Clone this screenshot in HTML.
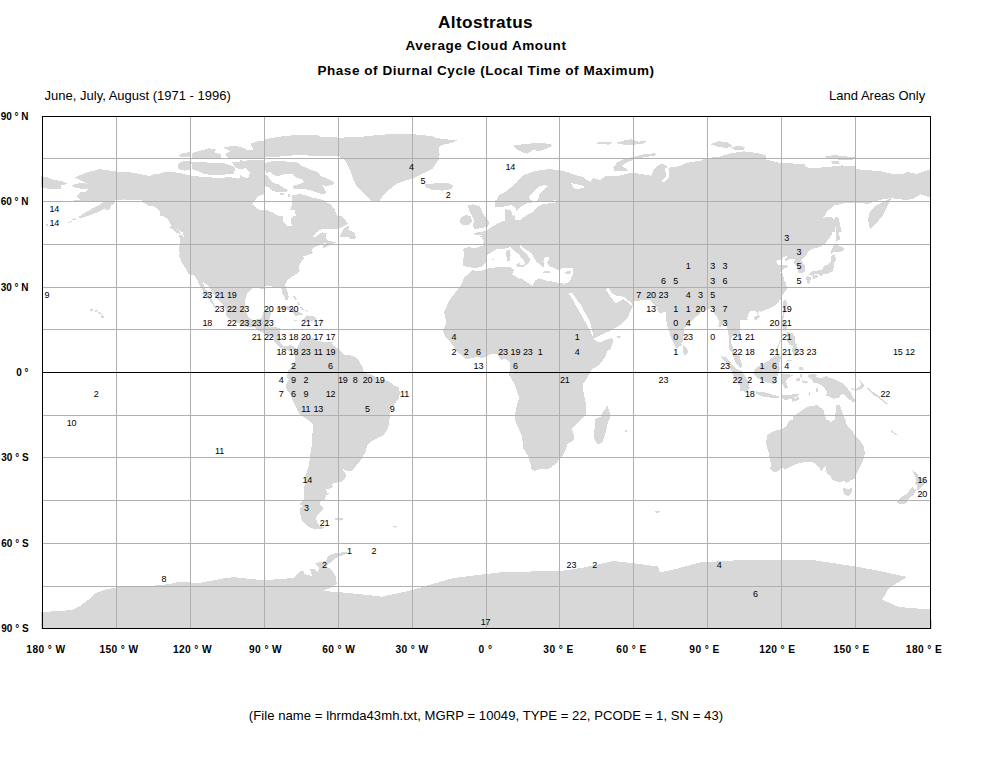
<!DOCTYPE html>
<html><head><meta charset="utf-8"><style>
html,body{margin:0;padding:0;background:#fff;width:997px;height:760px;overflow:hidden}
svg{position:absolute;left:0;top:0}
text{font-family:"Liberation Sans",sans-serif}
</style></head><body>
<svg width="997" height="760" viewBox="0 0 997 760">
<rect width="997" height="760" fill="#fff"/>
<text x="485.5" y="27.6" font-size="17.2" font-weight="bold" letter-spacing="0.4" text-anchor="middle">Altostratus</text>
<text x="486" y="50.3" font-size="13.5" font-weight="bold" letter-spacing="0.6" text-anchor="middle">Average Cloud Amount</text>
<text x="486" y="74.8" font-size="13.5" font-weight="bold" letter-spacing="0.55" text-anchor="middle">Phase of Diurnal Cycle (Local Time of Maximum)</text>
<text x="44.6" y="100" font-size="13">June, July, August (1971 - 1996)</text>
<text x="925.2" y="100" font-size="13" text-anchor="end">Land Areas Only</text>
<path d="M216.0,149.4 208.8,148.4 201.6,150.3 191.6,153.1 191.6,157.9 220.5,157.9 221.3,154.8 214.1,152.1ZM183.4,153.1 178.9,154.8 179.9,157.1 189.8,157.1 189.8,152.1ZM177.7,169.0 184.1,170.6 190.5,169.8 190.5,160.9 180.1,161.7 177.7,165.7ZM435.5,164.1 438.8,159.3 439.6,154.5 438.8,148.1 442.0,144.9 453.2,142.5 457.2,140.1 445.2,139.3 435.5,137.7 432.3,136.1 416.3,134.5 392.2,134.0 374.6,135.3 360.1,136.9 338.5,137.7 329.6,136.5 320.0,136.8 320.0,135.9 317.0,135.4 297.2,134.9 279.1,136.7 264.6,139.4 264.6,140.4 257.4,141.2 250.2,143.9 252.1,146.7 253.7,150.0 245.9,150.0 244.9,148.4 239.4,146.7 232.2,145.8 223.2,147.6 230.5,151.1 225.0,153.9 228.5,157.9 240.0,157.9 240.0,158.0 265.1,158.0 265.1,157.5 288.1,156.0 296.2,155.0 320.2,156.0 340.0,156.5 340.0,158.0 344.1,159.3 347.3,164.1 350.5,170.6 352.1,175.4 353.7,180.2 356.9,186.6 363.3,193.0 371.4,201.1 379.4,201.1 382.6,196.2 389.0,189.8 397.0,183.4 406.7,180.2 416.3,177.0 425.9,172.2 432.3,169.0ZM240.0,153.2 239.4,153.1 240.0,152.9ZM224.2,174.6 233.8,173.8 235.4,167.4 227.4,164.1 221.0,162.5 213.0,163.3 201.7,161.7 191.3,162.5 192.1,169.0 198.5,171.4 203.3,173.8 213.0,175.4ZM297.2,162.5 286.1,161.5 273.1,161.0 265.1,163.0 265.1,170.1 266.1,173.1 270.1,172.1 273.1,175.1 278.1,176.1 284.1,174.1 292.2,174.1 296.2,178.1 302.2,179.1 304.2,182.1 300.2,184.1 294.2,185.1 292.2,188.1 296.2,189.1 304.2,189.1 310.2,190.1 315.2,192.1 322.2,194.1 326.3,193.1 325.3,190.1 322.2,185.1 326.3,186.1 333.3,184.6 334.3,182.1 328.3,179.1 320.2,175.6 318.2,172.1 310.2,169.6 302.2,166.0ZM54.3,188.5 60.5,189.1 60.5,185.7 65.4,184.3 67.4,184.0 64.2,181.7 53.1,179.7 46.9,177.2 40.8,176.0 40.8,187.1 46.9,188.5ZM280.1,193.3 280.6,195.6 284.6,195.1 284.1,192.9ZM288.1,194.1 288.3,197.3 290.4,197.1 290.2,194.1ZM72.6,220.6 76.1,219.3 75.1,218.1 72.1,219.1ZM72.1,221.5 71.1,220.9 68.1,222.3 68.9,222.9ZM48.0,225.6 47.5,224.1 46.0,224.6 46.2,225.8ZM339.5,236.6 347.9,236.6 350.3,238.6 354.0,239.4 356.0,236.9 354.0,232.1 348.4,230.1 349.1,225.2 344.2,227.8ZM294.0,295.5 292.0,295.5 295.5,300.0 297.0,299.5ZM298.0,301.5 296.0,301.5 299.0,305.2 300.5,305.0ZM300.0,307.0 303.0,310.3 304.5,310.0 301.5,306.8ZM90.0,311.0 93.0,310.8 93.5,309.0 90.0,309.3ZM307.5,311.8 308.5,311.0 305.0,309.5 305.2,310.8ZM303.0,314.5 299.8,312.3 294.8,310.0 288.7,306.3 283.7,306.0 278.8,306.9 276.3,310.0 277.6,310.0 281.3,309.4 285.0,309.1 288.7,310.0 294.1,313.1 294.8,315.7 300.5,315.4ZM95.0,310.2 95.0,311.8 96.5,312.0 97.5,310.5ZM98.0,313.2 101.5,314.0 101.5,313.0 98.0,312.0ZM104.5,316.0 101.0,314.5 101.0,318.0 103.0,318.5ZM307.2,315.4 302.5,319.7 305.9,320.8 309.6,321.9 313.3,320.2 317.3,319.1 313.3,316.0ZM324.2,319.7 320.2,319.4 320.2,320.8 323.9,320.8ZM297.8,319.9 292.9,319.7 293.6,320.5 296.6,321.1ZM160.0,216.0 160.0,216.0 160.0,216.0 160.0,216.0 160.0,216.0 160.0,216.0 160.0,216.0 160.0,216.0 164.0,216.0 164.6,217.0 168.3,219.8 170.8,224.1 171.5,227.2 169.3,227.5 172.7,229.5 176.4,232.9 181.9,234.3 179.4,231.2 176.7,228.9 177.7,229.2 180.6,230.9 183.1,232.6 183.8,236.9 182.1,234.9 178.7,234.9 180.1,239.7 180.1,242.6 178.9,249.1 179.6,252.5 179.4,256.8 180.6,259.6 182.6,263.9 184.1,266.2 186.3,269.6 188.5,273.6 193.7,275.3 195.2,276.4 197.2,279.6 199.4,285.2 201.8,288.9 203.6,292.4 204.1,294.6 209.2,299.5 211.0,302.3 214.2,306.9 215.9,306.6 214.2,304.3 212.2,300.9 209.7,295.8 207.3,290.9 204.1,286.7 203.1,281.8 207.8,285.2 211.0,290.1 213.4,293.8 217.1,298.6 220.8,302.3 225.0,307.7 226.3,310.8 225.8,315.1 230.7,319.9 235.6,321.9 240.6,324.5 245.5,326.5 250.4,327.1 254.6,327.1 258.6,330.8 262.8,332.5 267.7,334.5 270.2,335.0 274.4,339.3 274.4,342.1 277.6,345.0 281.3,348.4 286.2,349.8 288.7,350.7 292.4,349.2 293.9,351.3 293.8,351.5 294.8,354.9 295.3,359.2 294.8,362.0 292.4,364.9 291.1,367.7 288.7,369.2 288.2,372.0 286.4,376.3 288.7,379.1 287.9,381.7 285.7,385.4 286.7,389.6 289.9,393.9 292.9,400.4 295.6,406.1 297.8,411.3 300.5,415.2 305.9,418.6 309.6,421.2 312.6,424.1 312.8,430.3 312.1,437.4 312.1,443.1 311.1,450.2 310.1,454.5 309.6,460.2 309.1,465.9 306.4,473.0 304.7,477.8 304.7,484.4 304.0,490.9 303.5,494.9 303.5,500.0 299.8,504.3 302.2,505.7 299.5,510.0 300.3,514.2 301.7,519.9 304.7,522.8 308.4,526.5 312.1,528.4 317.0,529.3 322.0,528.7 325.2,527.9 319.5,525.6 317.0,522.8 317.3,521.0 315.8,518.5 317.0,515.6 319.5,512.8 323.4,509.1 323.2,507.1 319.5,504.3 321.2,500.9 324.9,500.0 325.7,495.7 329.1,493.7 327.4,492.9 325.7,488.6 329.4,488.6 332.6,487.2 332.3,484.4 334.3,482.9 340.5,482.1 344.2,480.1 346.1,475.8 344.9,473.0 342.2,468.7 346.6,471.0 351.6,471.0 354.0,468.7 357.2,464.4 360.7,460.2 363.2,455.9 366.1,451.6 366.9,445.4 370.6,441.7 375.0,439.4 378.7,437.4 382.9,436.0 386.1,431.7 388.1,427.5 389.3,421.8 389.8,414.7 390.5,409.0 393.5,405.8 396.0,401.9 399.4,397.6 399.7,391.9 398.4,386.8 394.2,385.7 388.6,381.1 384.9,380.2 381.2,380.0 376.7,379.1 375.0,376.3 371.3,374.6 367.6,374.0 365.1,372.6 362.7,370.6 362.7,366.9 360.2,363.5 358.7,360.3 356.3,357.8 352.8,355.8 348.1,355.2 344.7,354.9 341.7,352.1 338.5,348.4 335.5,347.3 331.8,343.6 333.3,341.6 330.6,341.6 327.6,342.1 322.7,341.8 317.5,341.0 314.6,339.3 312.8,337.6 310.9,340.1 310.1,336.7 307.9,338.2 304.7,339.9 301.5,340.4 299.8,342.1 298.5,345.5 296.6,349.2 295.1,347.5 291.1,344.7 287.4,346.1 283.7,345.8 280.0,342.1 279.8,339.3 280.0,333.6 280.3,328.8 275.1,326.8 270.2,327.1 268.2,325.4 269.2,320.2 270.2,316.5 271.4,311.1 268.9,310.8 263.3,312.0 262.8,313.7 261.5,318.2 257.8,319.1 252.9,320.2 248.7,317.4 246.0,312.3 244.8,308.6 245.3,302.3 245.7,296.6 248.0,292.4 252.9,288.1 257.8,287.8 262.8,289.2 266.0,289.5 265.2,286.1 270.2,285.8 275.1,287.5 278.8,286.7 281.8,288.9 282.0,293.2 284.2,296.3 285.5,299.5 287.4,300.3 288.7,296.6 287.2,290.9 285.2,285.2 286.7,281.0 290.6,277.6 293.6,275.6 297.3,273.3 299.8,271.0 298.5,266.8 299.8,263.9 301.0,261.6 303.5,259.4 303.5,256.5 307.2,254.8 310.9,254.0 313.3,253.1 311.6,250.8 312.8,248.0 317.0,246.3 320.7,244.9 323.2,243.4 326.9,243.1 322.7,246.0 323.9,248.3 328.1,246.0 333.1,244.0 338.0,241.4 335.5,242.3 333.1,241.7 328.1,240.6 326.4,238.6 325.7,235.5 327.4,233.2 322.0,232.3 315.1,236.9 312.1,237.5 317.0,231.8 322.0,229.2 329.4,228.9 338.0,229.2 344.7,225.5 348.4,224.1 344.7,219.3 341.7,216.1 341.5,216.0 337.2,216.0 334.8,210.0 335.7,210.0 330.3,204.2 325.3,201.2 320.2,199.1 314.2,198.1 308.2,196.1 300.2,194.1 292.2,195.1 292.2,203.2 290.3,210.0 294.4,210.0 296.1,216.0 293.2,216.0 291.1,218.4 291.6,225.5 287.4,226.1 283.2,221.2 283.0,216.0 278.5,216.0 272.3,212.3 266.6,210.0 259.2,210.0 252.0,204.2 255.0,200.2 255.6,199.8 258.1,196.1 264.1,194.1 264.1,188.1 265.1,186.1 270.1,188.1 272.1,191.1 278.1,192.1 286.1,192.1 288.1,190.1 284.1,188.1 278.1,184.1 273.1,183.1 270.1,180.1 267.1,175.1 264.1,175.1 264.1,159.5 260.1,160.0 250.0,160.0 244.0,161.0 240.0,160.1 240.0,162.0 232.2,162.5 233.8,165.7 238.6,169.0 240.0,169.0 240.0,178.4 237.0,178.6 230.6,177.3 217.8,177.8 203.3,177.0 190.5,175.4 179.3,173.0 169.6,171.4 160.0,173.0 160.0,173.0 160.0,173.8 154.2,174.0 150.5,176.0 145.6,175.2 138.2,173.9 133.3,172.6 125.9,172.3 117.2,171.5 111.1,170.6 104.9,170.3 100.0,169.0 95.0,170.6 88.9,171.8 83.9,173.7 77.8,176.0 74.6,177.6 78.0,178.9 82.2,181.1 86.9,183.7 81.5,182.8 76.5,183.7 71.4,185.4 72.8,186.5 75.8,188.2 80.2,188.5 85.2,188.5 88.9,189.1 86.4,191.4 80.2,192.2 79.0,194.2 76.5,196.2 78.3,197.6 80.2,199.9 80.4,200.0 74.1,200.0 74.1,201.5 103.5,201.9 102.2,203.0 95.2,207.0 86.1,212.0 78.6,216.9 80.1,218.3 89.1,215.5 98.2,212.0 106.7,207.8 105.2,209.5 108.2,210.5 111.2,206.5 109.6,206.2 115.2,203.0 114.4,200.0 122.4,200.0 124.6,199.3 126.7,200.0 142.0,200.0 142.0,202.2 146.3,204.2 149.3,206.2 153.0,205.6 156.7,208.4 160.0,211.0 160.0,216.0 160.0,216.0 160.0,216.0 160.0,216.0 160.0,216.0 160.0,216.0 160.0,216.0 160.0,216.0 160.0,216.0ZM113.5,200.0 113.3,200.0 113.5,199.9ZM248.0,178.1 243.0,177.1 240.0,175.1 240.0,169.1 246.0,168.1 250.0,173.1ZM335.5,519.9 339.2,520.8 343.4,519.3 342.9,517.6 334.8,517.9ZM618.9,144.1 626.9,144.9 634.9,144.6 644.6,143.3 646.2,140.9 638.1,141.7 631.7,139.3 625.3,140.1 617.3,142.5ZM602.8,141.7 594.8,143.0 599.6,144.2 609.3,144.6 612.5,142.5ZM726.4,148.1 732.8,145.7 726.4,141.7 718.4,141.4 710.4,144.1 716.8,146.5ZM744.1,149.7 744.9,147.3 739.2,145.7 731.2,147.3 734.4,150.0ZM533.8,149.7 538.6,151.3 543.5,149.7 549.9,147.3 553.1,144.9 543.5,143.0 533.8,143.3 524.2,144.1 513.0,145.7 516.2,148.9 524.2,152.9 527.4,153.7ZM623.7,159.3 617.3,162.5 613.3,167.4 614.1,170.6 623.7,171.4 628.5,170.6 622.1,165.7 626.9,162.5 634.9,159.3 646.2,156.9 656.6,155.3 654.2,153.2 643.0,154.5 633.3,156.9ZM425.1,184.2 425.9,187.4 432.3,189.8 442.0,190.6 451.6,189.0 453.2,185.8 448.4,183.1 435.5,183.4ZM474.4,229.3 479.3,228.5 487.3,226.9 489.7,222.9 485.7,217.3 482.5,212.5 479.3,206.0 472.8,204.4 468.0,205.2 468.8,209.3 471.2,214.1 474.4,220.5 472.8,224.5ZM472.0,222.1 471.2,216.5 466.4,214.9 461.6,217.3 460.0,220.5 460.0,222.9 461.6,224.5 468.0,225.3ZM509.8,260.9 510.6,255.3 509.8,250.0 506.6,250.4 506.2,255.3 507.0,260.5ZM491.8,259.9 494.2,260.1 494.6,258.9 491.4,258.5ZM542.2,271.7 543.4,273.5 550.6,272.9 549.4,271.1ZM571.1,271.1 565.1,271.7 565.7,273.8 570.5,273.5ZM784.5,291.8 786.7,289.5 786.9,286.7 785.7,284.7 786.7,282.7 784.5,280.7 782.7,274.4 780.0,272.7 782.5,269.9 783.7,268.5 788.2,267.0 787.4,265.3 783.7,264.5 779.3,265.3 777.1,263.3 776.1,261.6 777.1,260.5 780.0,260.2 783.2,257.7 785.9,255.7 787.7,256.8 785.2,259.6 785.7,261.4 790.1,258.8 792.6,258.5 794.8,259.6 793.8,263.6 798.0,266.8 797.8,269.6 798.0,272.4 800.5,273.3 803.0,272.4 804.9,271.6 805.4,268.2 805.2,266.5 803.2,263.1 801.2,260.5 805.9,255.9 808.1,251.4 812.3,248.8 820.2,247.1 825.7,242.6 832.1,234.3 832.3,232.0 834.8,232.0 835.6,226.4 836.2,232.0 836.1,232.0 836.3,234.0 835.8,239.7 836.3,241.2 840.0,239.7 838.9,232.0 841.7,232.0 838.3,216.7 834.5,217.7 834.7,219.4 830.8,216.7 823.4,217.7 827.1,211.1 834.5,205.5 845.7,202.8 855.1,202.8 868.1,203.7 879.3,200.0 889.3,198.3 886.8,200.0 875.6,205.5 869.1,213.0 868.1,220.5 870.0,229.8 875.6,224.2 883.1,214.9 888.7,203.7 891.4,198.2 905.4,200.0 912.9,199.0 920.4,194.4 931.0,197.6 931.0,187.6 931.2,187.1 931.2,176.0 931.0,176.0 931.0,169.5 928.8,170.1 916.6,173.8 907.3,172.0 903.6,173.8 892.4,173.8 879.3,171.0 866.3,170.1 856.9,169.2 855.1,166.4 842.0,165.4 832.7,166.4 823.4,167.3 814.0,168.2 806.6,167.3 804.7,164.5 793.5,163.6 787.9,163.0 778.6,162.6 765.5,159.3 766.5,155.2 756.2,152.9 745.0,151.6 745.0,151.1 744.1,151.3 731.2,153.2 718.4,156.9 707.2,158.0 700.7,160.6 686.3,162.9 679.9,166.1 670.2,167.4 667.7,168.6 668.6,169.0 669.4,177.0 663.8,182.6 661.4,181.8 666.2,176.2 664.6,167.4 666.9,168.3 666.2,164.9 660.6,163.8 654.2,169.0 651.0,175.7 638.1,173.5 631.7,172.5 618.9,175.7 606.0,176.2 599.6,180.2 593.2,177.8 590.0,182.3 590.0,181.4 587.3,180.1 583.3,177.1 575.2,175.0 567.2,172.0 559.2,170.0 549.2,169.2 541.1,170.0 532.1,172.0 524.1,175.0 519.1,179.1 517.1,182.1 511.0,187.1 505.0,192.1 499.0,195.1 497.0,199.6 495.0,199.6 495.0,207.1 501.0,207.1 511.0,205.1 515.1,207.1 516.5,210.7 520.1,207.1 528.1,203.1 535.1,202.1 551.2,201.1 555.2,200.1 557.2,202.1 551.2,203.1 543.1,204.1 537.1,207.1 533.1,212.2 525.1,216.2 520.1,220.0 519.9,220.0 515.1,220.0 515.1,214.2 513.1,216.2 511.0,210.2 505.0,209.1 505.0,220.0 505.8,220.0 496.9,223.7 488.9,228.5 486.5,230.9 479.3,232.0 474.4,233.3 475.3,235.0 482.2,235.0 482.4,236.0 478.5,236.0 481.7,237.6 483.7,240.8 482.5,245.6 476.1,248.0 467.3,247.2 463.3,248.8 464.1,256.1 462.5,261.7 463.3,265.7 466.5,266.5 469.7,266.5 472.1,268.1 476.1,268.1 481.7,266.5 485.7,262.5 487.3,255.3 492.2,252.0 496.2,249.2 504.2,248.8 510.6,247.2 515.4,252.0 520.0,254.9 520.0,256.9 520.6,257.3 523.6,260.3 525.4,263.9 523.0,265.1 520.0,264.4 520.0,262.7 516.2,264.1 517.0,266.5 520.0,266.5 520.0,267.2 520.6,267.5 524.2,266.3 529.0,262.7 530.2,259.1 527.8,255.5 524.2,251.9 520.6,248.2 520.0,247.9 520.0,245.3 520.6,245.2 525.4,249.4 531.4,253.1 533.8,257.9 537.4,262.7 541.0,265.1 542.2,267.5 544.6,266.3 543.4,261.5 544.6,257.3 548.2,256.7 549.4,259.1 547.0,262.7 549.4,266.3 554.3,268.1 557.9,269.9 561.5,268.7 566.3,267.5 573.5,268.1 572.9,273.5 570.6,280.0 569.9,280.0 568.3,282.8 563.7,283.7 560.0,282.9 560.0,283.1 559.1,283.1 554.3,281.9 547.0,280.7 539.8,278.3 535.0,280.7 532.6,285.6 527.8,283.1 523.0,279.5 520.0,278.1 520.0,279.0 512.2,274.5 513.8,269.7 510.6,267.3 496.2,267.3 489.7,268.1 484.9,269.7 480.1,271.3 475.3,271.3 472.1,269.7 470.5,272.1 464.1,277.7 461.7,284.1 452.8,296.0 452.1,296.0 449.0,300.9 444.1,312.3 445.3,316.5 446.0,323.6 442.8,330.2 444.8,336.4 449.0,340.7 452.7,345.0 457.6,352.1 466.3,359.2 476.1,357.2 483.5,357.8 490.9,354.1 497.1,354.1 500.8,359.8 505.7,359.2 509.4,361.2 510.2,366.3 508.9,374.8 515.1,384.8 516.1,389.1 519.1,397.6 515.6,410.4 515.1,420.4 521.8,436.0 523.5,448.8 527.9,455.9 531.1,465.9 531.6,469.6 535.3,471.0 540.3,468.7 548.9,468.7 555.1,464.4 562.5,455.9 566.2,448.8 566.9,444.5 573.6,440.3 573.6,434.6 571.8,428.9 576.8,423.2 585.9,414.7 585.9,403.3 583.4,391.9 582.7,384.8 587.1,377.7 592.1,369.2 599.5,364.9 604.4,357.8 608.2,350.0 610.1,350.0 613.4,340.8 611.6,338.0 606.1,339.9 598.7,342.6 593.2,338.9 596.8,337.1 604.2,333.4 611.6,330.2 617.1,327.0 623.6,322.4 628.2,316.8 630.0,312.2 632.8,306.2 633.7,301.2 640.0,300.8 640.0,300.3 642.6,300.3 646.3,300.0 650.0,299.8 652.3,302.6 654.2,304.9 655.7,307.1 658.7,306.9 656.0,308.6 659.4,312.6 662.4,312.8 665.1,311.7 665.8,311.4 665.8,315.1 665.8,318.5 666.8,323.1 667.3,326.8 668.8,330.2 670.3,335.0 671.7,339.3 674.0,343.6 674.9,346.7 677.2,349.0 678.9,346.7 681.6,345.5 681.4,342.7 683.1,342.1 683.1,337.9 684.1,333.6 683.6,329.0 685.6,327.1 688.8,324.8 689.3,323.4 692.0,320.8 695.2,317.1 698.1,315.4 700.4,312.8 700.6,310.6 703.6,310.3 705.5,309.7 709.2,309.4 711.7,307.1 712.9,309.4 713.7,312.3 714.7,314.0 716.6,316.5 718.4,319.9 719.1,323.6 718.4,326.5 720.3,327.1 722.8,325.1 725.8,323.9 726.7,326.2 727.5,329.9 728.2,333.6 729.2,337.9 729.0,342.1 728.7,346.4 728.5,349.2 731.7,352.4 733.2,355.2 733.7,357.8 734.9,361.2 736.4,364.3 738.8,366.3 740.0,367.2 740.0,368.1 740.8,368.1 742.4,364.9 740.0,358.9 740.0,357.1 739.6,356.1 737.8,354.4 735.1,352.4 733.7,350.7 732.4,345.5 730.7,342.1 731.4,338.4 732.7,335.6 734.9,333.9 736.4,335.9 738.8,337.9 740.0,339.8 740.0,320.0 748.1,320.0 747.0,318.0 749.2,312.8 751.2,310.8 753.6,310.6 756.1,310.8 757.8,314.3 758.6,311.7 760.0,311.0 760.0,311.9 768.0,308.8 776.0,304.8 779.8,300.0 780.4,300.0 780.8,299.5 781.5,296.6 783.2,294.3ZM533.1,192.1 539.1,186.1 545.2,185.1 548.2,186.1 543.1,190.1 539.1,194.1 538.1,200.1 535.1,201.1 530.1,200.1 529.1,196.1ZM577.2,189.1 573.2,188.1 571.2,183.1 575.2,184.1 581.3,185.1 585.3,187.1ZM575.2,297.5 581.6,305.8 585.3,313.2 588.1,317.8 590.9,325.1 592.2,331.6 593.6,335.3 591.8,335.7 590.9,331.6 587.6,326.1 583.9,319.6 580.3,313.2 576.6,306.7 572.0,298.4 568.8,293.8 572.0,292.4ZM611.6,292.9 617.1,296.1 623.6,296.6 626.3,298.9 631.8,303.0 632.8,305.8 630.0,304.9 626.3,301.2 623.6,298.9 619.9,301.2 615.3,303.5 612.5,299.3 609.7,295.7 605.1,288.8 608.8,288.3ZM757.3,319.7 759.8,316.2 758.6,314.8 753.9,317.4 754.1,319.4ZM617.3,337.6 620.3,337.6 620.8,335.7 617.1,336.2ZM685.3,346.4 683.1,344.1 682.8,352.1 684.6,355.2 687.3,354.1 688.0,350.7ZM754.4,374.6 759.3,379.4 767.3,382.6 775.3,384.2 776.9,377.8 778.5,373.0 780.1,368.1 778.5,364.9 780.4,360.0 779.7,360.0 780.9,357.8 779.3,354.6 774.4,356.2 769.3,360.0 769.6,360.0 764.1,363.3 757.7,366.5 754.4,369.7ZM735.1,379.1 738.3,383.4 740.0,385.0 740.0,390.8 747.2,392.2 749.6,387.4 748.0,381.0 743.2,373.0 740.0,369.1 740.0,372.1 738.8,370.6 733.9,366.3 729.0,360.6 726.5,357.2 721.1,356.1 722.8,359.2 726.5,363.5 729.7,367.2 732.7,374.3ZM756.0,393.8 764.1,397.0 778.5,398.3 780.1,397.0 775.3,395.4 764.1,392.2 756.0,391.4ZM593.8,437.4 597.0,444.5 602.2,442.8 605.1,434.6 608.1,421.8 610.6,416.1 607.6,406.1 603.9,410.4 600.7,416.7 595.3,418.9 594.5,428.9ZM624.5,432.0 627.0,432.0 627.0,430.0 624.5,430.0ZM656.0,513.0 659.0,513.2 660.0,511.5 655.0,511.0ZM397.0,526.5 392.0,525.5 393.0,527.2 396.0,527.8ZM340.0,552.6 335.0,553.0 328.0,556.0 326.0,561.0 320.0,562.0 315.0,563.0 319.0,568.0 318.0,572.0 314.0,568.6 310.0,569.0 312.0,576.0 304.0,574.0 304.6,571.0 300.0,571.0 298.0,574.0 293.0,578.0 280.0,579.1 264.7,580.2 250.0,579.0 234.6,577.2 225.0,578.0 210.0,581.0 198.5,583.2 186.0,582.0 180.0,581.7 170.0,584.0 150.0,586.0 132.0,586.8 116.0,587.5 104.0,590.0 95.0,593.0 88.0,600.0 80.0,606.0 72.0,610.0 60.0,611.0 41.0,612.0 41.0,629.0 932.0,629.0 931.0,609.6 898.8,607.0 882.2,599.7 888.8,588.0 907.0,577.0 882.2,571.5 855.6,566.5 815.8,560.5 766.0,559.8 732.8,560.5 699.6,562.5 679.7,568.0 660.0,572.5 658.0,566.5 633.2,563.2 613.8,561.0 583.0,567.7 559.2,571.2 504.6,571.8 486.6,574.0 453.5,578.0 429.6,584.8 412.5,590.0 382.0,596.7 368.0,595.0 340.0,592.2 323.0,591.0 330.0,588.0 336.7,584.0 336.0,577.0 332.0,570.0 326.0,566.0 330.0,563.0 334.0,559.0 340.0,556.0 347.7,553.6 347.0,552.0ZM834.5,155.2 824.3,156.1 827.1,159.3 853.2,159.8 855.1,157.4 843.9,156.1ZM832.7,164.1 840.1,163.6 838.3,160.8 830.8,161.1ZM831.8,254.2 833.8,251.7 840.0,252.5 844.9,248.8 842.4,247.1 837.5,245.4 835.0,243.1 831.3,250.3 831.3,254.0ZM835.8,258.2 835.0,254.2 832.1,254.8 831.3,256.8 830.8,261.4 827.6,264.5 824.7,265.3 823.9,266.8 821.5,270.2 817.8,270.5 812.8,271.0 808.9,274.4 808.9,275.3 811.6,275.6 815.3,274.2 819.0,274.4 821.0,276.7 823.4,274.4 823.9,273.6 826.9,273.6 828.9,273.3 830.8,272.2 833.3,270.5 833.6,266.8 833.8,263.1 836.3,259.6ZM818.3,275.9 817.3,274.7 813.6,275.3 811.6,278.1 814.1,278.7 817.0,277.6ZM807.2,283.0 809.1,283.8 810.4,281.0 811.1,277.3 807.9,275.9 805.7,277.3 806.7,280.4ZM786.1,309.6 786.9,303.2 785.8,300.0 784.8,300.0 782.9,300.8 783.3,308.0 782.5,316.0 781.7,324.1 783.3,328.9 785.7,331.3 787.3,328.9 786.5,324.1 783.3,319.3 784.1,314.4ZM795.3,345.7 796.9,344.9 794.5,341.7 795.3,336.9 792.1,332.9 786.5,332.1 786.5,336.9 787.3,341.7 789.7,344.9 793.2,346.4 792.1,349.7 792.9,354.6 795.3,356.2 797.7,351.4 796.9,346.5ZM776.0,353.0 781.0,340.9 780.1,340.1 775.2,351.4ZM784.9,360.0 784.9,360.1 791.4,361.7 792.5,360.0ZM800.0,366.8 799.4,366.5 799.4,369.7 800.0,370.2 800.0,370.5 803.6,369.8 803.2,367.4 800.0,366.7ZM800.0,377.2 801.6,377.8 802.4,374.6 800.0,373.9ZM796.2,378.6 796.5,381.0 800.0,380.7 800.0,377.9ZM785.7,381.0 788.1,377.8 793.0,375.4 788.1,373.8 781.4,374.6 781.4,379.4 782.5,384.2 784.9,389.0 788.1,387.4ZM808.8,383.5 808.0,381.9 801.6,380.2 802.4,382.3ZM861.0,384.3 859.4,386.7 856.2,389.1 851.4,388.3 852.2,389.9 856.2,390.7 861.0,389.1 864.2,385.9 863.4,383.5 858.6,379.4ZM820.9,378.6 816.0,377.0 816.9,374.6 812.0,373.8 808.0,375.4 808.8,377.8 812.0,379.4 813.6,383.5 816.0,382.7 820.1,384.3 824.1,387.5 827.3,392.3 825.7,395.5 830.5,397.1 833.7,398.7 839.3,397.9 840.1,395.5 843.3,393.9 846.5,397.1 851.4,401.1 855.4,402.7 856.2,401.1 853.0,397.1 850.6,392.3 848.1,389.1 843.3,383.5 838.5,381.0 832.1,378.6 825.7,376.2ZM816.0,387.5 816.0,391.5 817.7,392.3 818.5,387.9ZM808.8,392.3 808.4,395.1 809.6,395.5 810.4,392.7ZM886.0,404.3 887.6,403.5 880.0,397.3 880.0,396.7 877.0,394.7 872.2,391.5 867.4,387.5 867.0,389.1 869.0,390.7 873.8,395.5 880.0,398.8 880.0,399.2ZM781.7,397.8 784.9,400.2 791.4,398.6 797.8,396.2 799.4,393.8 791.4,394.6 780.9,395.4ZM792.2,401.8 798.6,400.2 799.4,397.0 791.4,398.6ZM896.7,435.4 897.9,435.1 890.5,429.5 890.5,431.2ZM769.7,468.7 773.4,471.6 777.1,471.6 782.0,468.4 786.9,468.7 791.9,465.9 796.8,463.9 804.2,462.2 810.4,461.6 815.3,463.6 819.0,467.3 821.5,471.0 825.7,465.3 826.2,469.3 825.2,471.8 827.6,471.0 826.9,473.3 830.1,475.8 832.6,480.1 836.3,481.2 840.0,482.4 843.2,480.7 846.9,482.9 849.8,480.7 856.0,478.7 856.5,474.4 859.0,468.7 862.2,463.0 863.6,458.8 864.9,453.1 863.6,446.0 862.2,443.7 858.5,438.8 854.8,435.4 852.3,430.3 846.9,425.8 845.8,420.0 845.5,420.0 842.7,413.1 840.0,405.0 836.4,405.0 836.3,405.1 834.8,420.0 833.0,420.0 831.3,422.3 828.9,420.4 828.4,420.0 826.3,420.0 823.5,409.9 817.0,405.1 807.4,406.7 793.0,416.3 793.0,420.0 790.2,420.0 788.2,421.8 786.9,425.5 783.2,428.3 778.3,430.0 773.4,430.9 768.9,434.0 767.7,434.6 766.0,441.7 766.7,446.0 768.7,453.1 769.7,458.8 771.4,464.4ZM914.7,483.5 917.7,485.8 916.7,489.2 918.2,490.3 922.1,486.3 924.8,483.5 926.3,479.2 919.6,477.2 916.4,473.0 912.0,470.1 915.2,475.8 916.7,480.1ZM842.7,487.8 842.7,490.0 844.9,495.2 848.6,495.7 851.6,492.3 851.8,488.3 847.4,488.9ZM902.9,504.6 906.8,502.6 908.5,498.6 912.2,496.0 914.7,493.2 915.9,489.5 912.0,487.2 909.0,490.9 906.6,494.0 901.1,497.2 897.4,500.9 896.7,502.8Z" fill="#d8d8d8" fill-rule="evenodd" shape-rendering="crispEdges"/>
<rect x="116" y="116" width="1" height="512" fill="#b0b0b0"/><rect x="190" y="116" width="1" height="512" fill="#b0b0b0"/><rect x="264" y="116" width="1" height="512" fill="#b0b0b0"/><rect x="338" y="116" width="1" height="512" fill="#b0b0b0"/><rect x="412" y="116" width="1" height="512" fill="#b0b0b0"/><rect x="486" y="116" width="1" height="512" fill="#b0b0b0"/><rect x="559" y="116" width="1" height="512" fill="#b0b0b0"/><rect x="633" y="116" width="1" height="512" fill="#b0b0b0"/><rect x="707" y="116" width="1" height="512" fill="#b0b0b0"/><rect x="781" y="116" width="1" height="512" fill="#b0b0b0"/><rect x="855" y="116" width="1" height="512" fill="#b0b0b0"/><rect x="42" y="158" width="888" height="1" fill="#b0b0b0"/><rect x="42" y="201" width="888" height="1" fill="#b0b0b0"/><rect x="42" y="244" width="888" height="1" fill="#b0b0b0"/><rect x="42" y="287" width="888" height="1" fill="#b0b0b0"/><rect x="42" y="329" width="888" height="1" fill="#b0b0b0"/><rect x="42" y="372" width="888" height="1" fill="#000"/><rect x="42" y="415" width="888" height="1" fill="#b0b0b0"/><rect x="42" y="457" width="888" height="1" fill="#b0b0b0"/><rect x="42" y="500" width="888" height="1" fill="#b0b0b0"/><rect x="42" y="543" width="888" height="1" fill="#b0b0b0"/><rect x="42" y="586" width="888" height="1" fill="#b0b0b0"/>
<rect x="42" y="116" width="889" height="1" fill="#000"/><rect x="42" y="628" width="889" height="1" fill="#000"/><rect x="42" y="116" width="1" height="513" fill="#000"/><rect x="930" y="116" width="1" height="513" fill="#000"/>
<g font-size="9" letter-spacing="-0.2" text-anchor="middle" fill="#000"><text x="46.9" y="297.7">9</text><text x="207.2" y="297.7">23</text><text x="219.5" y="297.7">21</text><text x="231.8" y="297.7">19</text><text x="638.7" y="297.7">7</text><text x="651.1" y="297.7">20</text><text x="663.4" y="297.7">23</text><text x="688.1" y="297.7">4</text><text x="700.4" y="297.7">3</text><text x="712.7" y="297.7">5</text><text x="219.5" y="312.0">23</text><text x="231.8" y="312.0">22</text><text x="244.2" y="312.0">23</text><text x="268.8" y="312.0">20</text><text x="281.2" y="312.0">19</text><text x="293.5" y="312.0">20</text><text x="651.1" y="312.0">13</text><text x="675.7" y="312.0">1</text><text x="688.1" y="312.0">1</text><text x="700.4" y="312.0">20</text><text x="712.7" y="312.0">3</text><text x="725.0" y="312.0">7</text><text x="786.7" y="312.0">19</text><text x="207.2" y="326.2">18</text><text x="231.8" y="326.2">22</text><text x="244.2" y="326.2">23</text><text x="256.5" y="326.2">23</text><text x="268.8" y="326.2">23</text><text x="305.8" y="326.2">21</text><text x="318.2" y="326.2">17</text><text x="675.7" y="326.2">0</text><text x="688.1" y="326.2">4</text><text x="725.0" y="326.2">3</text><text x="774.4" y="326.2">20</text><text x="786.7" y="326.2">21</text><text x="256.5" y="340.4">21</text><text x="268.8" y="340.4">22</text><text x="281.2" y="340.4">13</text><text x="293.5" y="340.4">18</text><text x="305.8" y="340.4">20</text><text x="318.2" y="340.4">17</text><text x="330.5" y="340.4">17</text><text x="453.8" y="340.4">4</text><text x="577.1" y="340.4">1</text><text x="675.7" y="340.4">0</text><text x="688.1" y="340.4">23</text><text x="712.7" y="340.4">0</text><text x="737.4" y="340.4">21</text><text x="749.7" y="340.4">21</text><text x="786.7" y="340.4">21</text><text x="281.2" y="354.6">18</text><text x="293.5" y="354.6">18</text><text x="305.8" y="354.6">23</text><text x="318.2" y="354.6">11</text><text x="330.5" y="354.6">19</text><text x="453.8" y="354.6">2</text><text x="466.1" y="354.6">2</text><text x="478.4" y="354.6">6</text><text x="503.1" y="354.6">23</text><text x="515.4" y="354.6">19</text><text x="527.8" y="354.6">23</text><text x="540.1" y="354.6">1</text><text x="577.1" y="354.6">4</text><text x="675.7" y="354.6">1</text><text x="737.4" y="354.6">22</text><text x="749.7" y="354.6">18</text><text x="774.4" y="354.6">21</text><text x="786.7" y="354.6">21</text><text x="799.0" y="354.6">23</text><text x="811.4" y="354.6">23</text><text x="897.7" y="354.6">15</text><text x="910.0" y="354.6">12</text><text x="293.5" y="368.8">2</text><text x="330.5" y="368.8">6</text><text x="478.4" y="368.8">13</text><text x="515.4" y="368.8">6</text><text x="725.0" y="368.8">23</text><text x="762.0" y="368.8">1</text><text x="774.4" y="368.8">6</text><text x="786.7" y="368.8">4</text><text x="281.2" y="383.1">4</text><text x="293.5" y="383.1">9</text><text x="305.8" y="383.1">2</text><text x="342.8" y="383.1">19</text><text x="355.1" y="383.1">8</text><text x="367.5" y="383.1">20</text><text x="379.8" y="383.1">19</text><text x="564.8" y="383.1">21</text><text x="663.4" y="383.1">23</text><text x="737.4" y="383.1">22</text><text x="749.7" y="383.1">2</text><text x="762.0" y="383.1">1</text><text x="774.4" y="383.1">3</text><text x="96.2" y="397.3">2</text><text x="281.2" y="397.3">7</text><text x="293.5" y="397.3">6</text><text x="305.8" y="397.3">9</text><text x="330.5" y="397.3">12</text><text x="404.5" y="397.3">11</text><text x="749.7" y="397.3">18</text><text x="885.3" y="397.3">22</text><text x="305.8" y="411.5">11</text><text x="318.2" y="411.5">13</text><text x="367.5" y="411.5">5</text><text x="392.1" y="411.5">9</text><text x="71.6" y="425.7">10</text><text x="219.5" y="454.2">11</text><text x="922.3" y="482.6">16</text><text x="922.3" y="496.8">20</text><text x="688.1" y="269.3">1</text><text x="712.7" y="269.3">3</text><text x="725.0" y="269.3">3</text><text x="799.0" y="269.3">5</text><text x="663.4" y="283.5">6</text><text x="675.7" y="283.5">5</text><text x="712.7" y="283.5">3</text><text x="725.0" y="283.5">6</text><text x="799.0" y="283.5">5</text><text x="786.7" y="240.9">3</text><text x="799.0" y="255.1">3</text><text x="54.3" y="211.8">14</text><text x="54.3" y="225.8">14</text><text x="411.5" y="170.1">4</text><text x="422.9" y="183.9">5</text><text x="448.2" y="198.1">2</text><text x="510.3" y="170.1">14</text><text x="307.3" y="482.9">14</text><text x="306.3" y="511.2">3</text><text x="324.5" y="525.8">21</text><text x="349.5" y="554.1">1</text><text x="374.0" y="554.1">2</text><text x="324.3" y="567.8">2</text><text x="164.0" y="581.9">8</text><text x="571.4" y="567.7">23</text><text x="594.6" y="567.7">2</text><text x="719.2" y="567.7">4</text><text x="755.3" y="596.9">6</text><text x="485.6" y="624.6">17</text></g>
<g font-size="10.2" font-weight="bold" letter-spacing="0.4" text-anchor="middle"><text x="45.9" y="652.5">180 ° W</text><text x="119" y="652.5">150 ° W</text><text x="192.5" y="652.5">120 ° W</text><text x="265.6" y="652.5">90 ° W</text><text x="338.7" y="652.5">60 ° W</text><text x="412" y="652.5">30 ° W</text><text x="485.5" y="652.5">0 °</text><text x="558.5" y="652.5">30 ° E</text><text x="631.5" y="652.5">60 ° E</text><text x="704.5" y="652.5">90 ° E</text><text x="777.3" y="652.5">120 ° E</text><text x="851.6" y="652.5">150 ° E</text><text x="924" y="652.5">180 ° E</text></g>
<g font-size="10" font-weight="bold" text-anchor="end"><text x="28.6" y="119.8">90 ° N</text><text x="28.6" y="205.1">60 ° N</text><text x="28.6" y="290.5">30 ° N</text><text x="28.6" y="375.8">0 °</text><text x="28.6" y="461.1">30 ° S</text><text x="28.6" y="546.5">60 ° S</text><text x="28.6" y="631.8">90 ° S</text></g>
<text x="486" y="719.8" font-size="13.1" letter-spacing="0.05" text-anchor="middle">(File name = lhrmda43mh.txt, MGRP = 10049, TYPE = 22, PCODE = 1, SN = 43)</text>
</svg>
</body></html>
